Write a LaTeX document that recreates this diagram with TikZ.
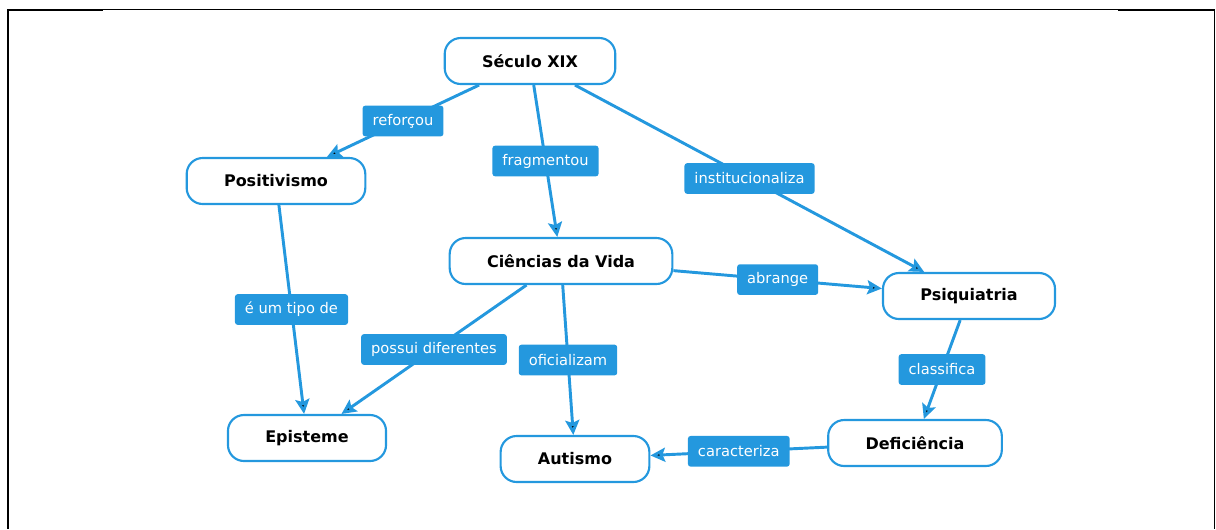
\documentclass[tikz,border=0pt]{standalone}
\usepackage{fontspec}
\setmainfont{DejaVu Sans}
\usetikzlibrary{arrows.meta}
\definecolor{mapblue}{RGB}{36,152,222}

\begin{document}
\begin{tikzpicture}[x=0.75pt,y=-0.75pt,>={Stealth[length=11pt,width=10.5pt,inset=2pt]},
    concept/.style={draw=mapblue,line width=1.6pt,rounded corners=12pt,fill=white,
      font=\fontsize{12}{14}\selectfont\bfseries,inner xsep=28pt,minimum height=34.5pt},
    link/.style={fill=mapblue,text=white,rounded corners=2pt,
      font=\fontsize{11}{13}\selectfont,inner xsep=7.5pt,minimum height=23pt}]
  \useasboundingbox (0,0) rectangle (1216,529);
  % page frame
  \draw[line width=0.8pt] (7,9.5) -- (1215,9.5);
  \draw[line width=1.5pt] (7,10) -- (103,10);
  \draw[line width=1.5pt] (1118,10) -- (1215,10);
  \draw[line width=1.5pt] (8,9) -- (8,529);
  \draw[line width=1pt] (1214.5,9) -- (1214.5,529);

  \node[concept] (sec) at (530,61)  {Século XIX};
  \node[concept] (pos) at (276,181) {Positivismo};
  \node[concept] (cie) at (561,261) {Ciências da Vida};
  \node[concept] (psi) at (969,296) {Psiquiatria};
  \node[concept] (epi) at (307,438) {Episteme};
  \node[concept] (aut) at (575,459) {Autismo};
  \node[concept] (def) at (915,443) {Deficiência};

  \path[->,draw=mapblue,line width=2.2pt]
    (sec) edge node[link] {reforçou} (pos)
          edge node[link] {fragmentou} (cie)
          edge node[link] {institucionaliza} (psi)
    (pos) edge node[link] {é um tipo de} (epi)
    (cie) edge node[link] {abrange} (psi)
          edge node[link] {possui diferentes} (epi)
          edge node[link] {oficializam} (aut)
    (psi) edge node[link] {classifica} (def)
    (def) edge node[link] {caracteriza} (aut);
\end{tikzpicture}
\end{document}
